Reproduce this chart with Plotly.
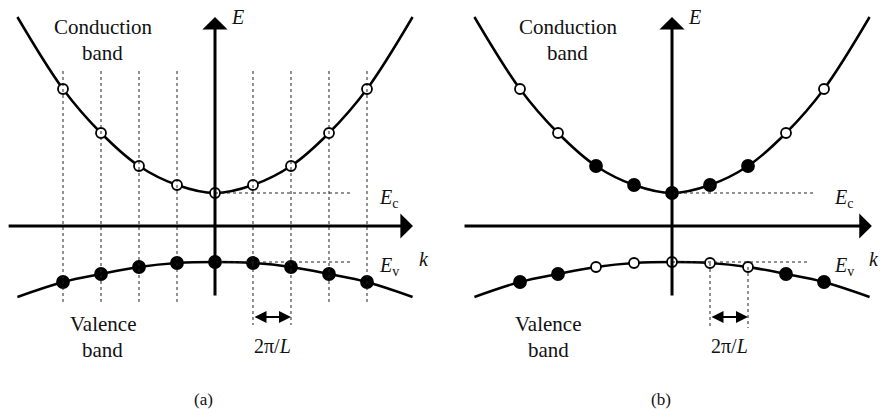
import plotly.graph_objects as go

# k in units of 2*pi/L, E in arbitrary units (k axis at E = 0)
k_points = [-4, -3, -2, -1, 0, 1, 2, 3, 4]
E_cond = [13.7, 9.3, 6.0, 4.1, 3.3, 4.1, 6.0, 9.3, 13.7]
E_val = [-5.6, -4.8, -4.1, -3.7, -3.6, -3.7, -4.1, -4.8, -5.6]

# band curves (points plus the curve ends)
k_curve = [-5.2, -4, -3, -2, -1, 0, 1, 2, 3, 4, 5.2]
E_cond_curve = [20.9, 13.7, 9.3, 6.0, 4.1, 3.3, 4.1, 6.0, 9.3, 13.7, 20.9]
E_val_curve = [-7.1, -5.6, -4.8, -4.1, -3.7, -3.6, -3.7, -4.1, -4.8, -5.6, -7.1]

# occupation: 1 = filled (electron), 0 = empty
cond_filled_a = [0, 0, 0, 0, 0, 0, 0, 0, 0]
val_filled_a = [1, 1, 1, 1, 1, 1, 1, 1, 1]
cond_filled_b = [0, 0, 1, 1, 1, 1, 1, 0, 0]
val_filled_b = [1, 1, 0, 0, 0, 0, 0, 1, 1]

Ec = 3.3
Ev = -3.6
panel_labels = ["(a)", "(b)"]

FONT = "Liberation Serif"

fig = go.Figure()
annotations = []
shapes = []


def add_panel(ax, filled_c, filled_v, label, kmin, kmax, ec_end, ev_end, full_grid):
    xr = "x" if ax == 1 else "x2"
    yr = "y" if ax == 1 else "y2"
    for E_curve in [E_cond_curve, E_val_curve]:
        fig.add_trace(go.Scatter(
            x=k_curve, y=E_curve, mode="lines", line=dict(color="black", width=2.5, shape="spline"),
            xaxis=xr, yaxis=yr, hoverinfo="skip"))
    for E, filled in [(E_cond, filled_c), (E_val, filled_v)]:
        fig.add_trace(go.Scatter(
            x=k_points, y=E, mode="markers",
            marker=dict(size=[12 if f else 10 for f in filled],
                        color=["black" if f else "white" for f in filled],
                        opacity=1,
                        line=dict(color="black", width=1.8)),
            xaxis=xr, yaxis=yr, hoverinfo="skip"))

    dot = dict(color="#222", width=1, dash="dot")
    # dotted guide lines
    if full_grid:
        for k in k_points:
            if k == 0:
                continue
            bottom = -9.9 if k in (1, 2) else -7.6
            shapes.append(dict(type="line", xref=xr, yref=yr, x0=k, x1=k, y0=15.5, y1=bottom,
                               line=dot, layer="above"))
    else:
        for k in (1, 2):
            shapes.append(dict(type="line", xref=xr, yref=yr, x0=k, x1=k,
                               y0=E_val[k_points.index(k)], y1=-10.2, line=dot, layer="above"))
    shapes.append(dict(type="line", xref=xr, yref=yr, x0=0, x1=ec_end, y0=Ec, y1=Ec,
                       line=dot, layer="above"))
    shapes.append(dict(type="line", xref=xr, yref=yr, x0=0, x1=ev_end, y0=Ev, y1=Ev,
                       line=dot, layer="above"))

    # axes with arrows
    annotations.append(dict(xref=xr, yref=yr, axref=xr, ayref=yr, x=0, y=20.9, ax=0, ay=-7.1,
                            text="", showarrow=True, arrowhead=1, arrowsize=1.4, arrowwidth=3,
                            arrowcolor="black"))
    annotations.append(dict(xref=xr, yref=yr, axref=xr, ayref=yr, x=kmax, y=0, ax=kmin, ay=0,
                            text="", showarrow=True, arrowhead=1, arrowsize=1.4, arrowwidth=3,
                            arrowcolor="black"))
    # 2pi/L double arrow
    annotations.append(dict(xref=xr, yref=yr, axref=xr, ayref=yr, x=2, y=-9.1, ax=1, ay=-9.1,
                            text="", showarrow=True, arrowhead=2, arrowsize=1.2, arrowwidth=2,
                            arrowside="end+start", arrowcolor="black"))

    def txt(x, y, t, size=20, xanchor="center"):
        annotations.append(dict(xref=xr, yref=yr, x=x, y=y, text=t, showarrow=False,
                                xanchor=xanchor, yanchor="middle",
                                font=dict(family=FONT, size=size, color="#111")))

    cx_c = -2.95 if ax == 1 else -2.74
    cx_v = -2.95 if ax == 1 else -3.26
    txt(cx_c, 19.9, "Conduction", size=21)
    txt(cx_c, 17.3, "band", size=21)
    txt(cx_v, -9.8, "Valence", size=21)
    txt(cx_v, -12.4, "band", size=21)
    txt(0.6, 20.9, "<i>E</i>")
    ex = 4.26 if ax == 1 else 4.21
    txt(ex, 2.8, "<i>E</i><sub>c</sub>", xanchor="left")
    txt(ex, -4.0, "<i>E</i><sub>v</sub>", xanchor="left")
    txt(kmax + 0.29 if ax == 1 else kmax + 0.06, -3.3, "<i>k</i>")
    txt(1.52, -12.0, "2π/<i>L</i>")
    txt(-0.3, -17.3, label, size=17)


add_panel(1, cond_filled_a, val_filled_a, panel_labels[0], -5.47, 5.21, 3.58, 3.58, True)
add_panel(2, cond_filled_b, val_filled_b, panel_labels[1], -5.5, 5.26, 3.76, 3.58, False)

axis_style = dict(visible=False, showgrid=False, zeroline=False, fixedrange=True)
fig.update_layout(
    width=884, height=412,
    margin=dict(l=0, r=0, t=0, b=0),
    paper_bgcolor="white", plot_bgcolor="white",
    showlegend=False,
    xaxis=dict(domain=[0, 0.5], range=[-5.658, 5.974], **axis_style),
    xaxis2=dict(domain=[0.5, 1], range=[-6.053, 5.579], **axis_style),
    yaxis=dict(range=[-18.6, 22.6], **axis_style),
    yaxis2=dict(range=[-18.6, 22.6], anchor="x2", **axis_style),
    annotations=annotations,
    shapes=shapes,
)

# drop the browser's default body margin so the figure sits at the page corner
fig.write_html("out.html", config={"displayModeBar": False},
               post_script="document.body.style.margin='0';")
